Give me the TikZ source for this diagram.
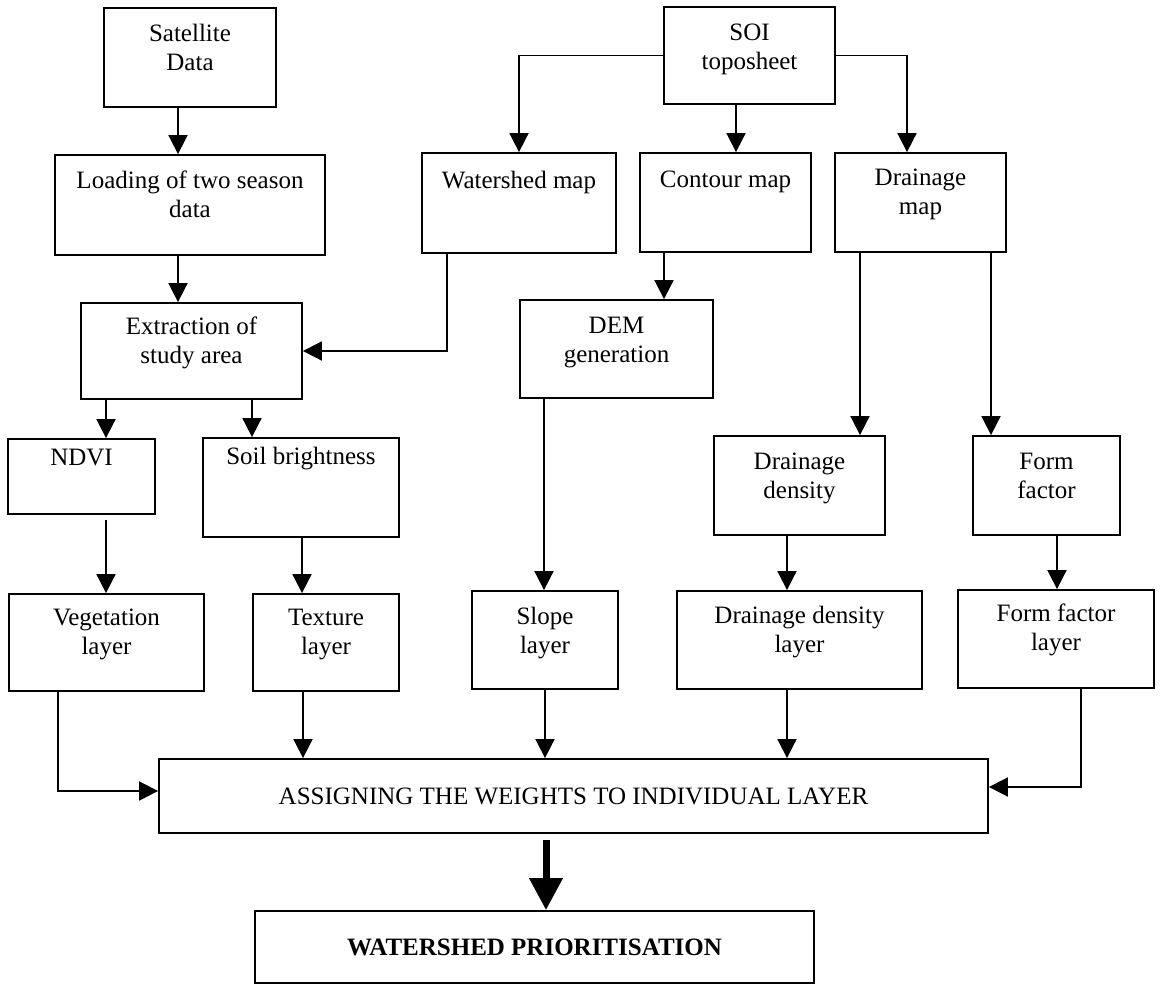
\documentclass[tikz,border=0pt]{standalone}
\usepackage{fontspec}
\setmainfont{Liberation Serif}
\usetikzlibrary{arrows.meta}
\newcommand{\boxtext}[4][6.5pt]{\parbox[c][#3][t]{#2}{\centering\vspace*{#1}\strut#4}}

\begin{document}
\begin{tikzpicture}[>={Triangle[length=9.5pt,width=9.5pt]}, line width=0.9pt, x=0.5pt, y=-0.5pt,
                box/.style={draw, inner sep=0pt},
                font=\fontsize{12.5}{14.5}\selectfont]
                \useasboundingbox (0,0) rectangle (1161,984);
                % inputs
                \node[box] (sat) at (190,57.5) {\boxtext{86pt}{49.5pt}{Satellite\\Data}};
                \node[box] (soi) at (749.5,55.5) {\boxtext{85.5pt}{48.5pt}{SOI\\toposheet}};
                \node[box] (load) at (190,205) {\boxtext{135pt}{50pt}{Loading of two season\\data}};
                \node[box] (wmap) at (519,203) {\boxtext[7.5pt]{97pt}{50pt}{Watershed map}};
                \node[box] (cmap) at (725.5,202.5) {\boxtext[7pt]{85.5pt}{49.5pt}{Contour map}};
                \node[box] (dmap) at (920.5,202.5) {\boxtext[6pt]{85.5pt}{49.5pt}{Drainage\\map}};
                \node[box] (extr) at (191.5,351) {\boxtext[5.5pt]{110.5pt}{48pt}{Extraction of\\study area}};
                \node[box] (dem) at (616.5,349) {\boxtext{96.5pt}{49pt}{DEM\\generation}};
                % derived maps
                \node[box] (ndvi) at (81.5,476.5) {\boxtext[3pt]{73.5pt}{37.5pt}{NDVI}};
                \node[box] (soil) at (301,487.5) {\boxtext[3pt]{98pt}{49.5pt}{Soil brightness}};
                \node[box] (dd) at (799.5,485.5) {\boxtext{85.5pt}{49.5pt}{Drainage\\density}};
                \node[box] (ff) at (1046.5,485.5) {\boxtext{73.5pt}{49.5pt}{Form\\factor}};
                % layers
                \node[box] (veg) at (106.5,642.5) {\boxtext[5.5pt]{97.5pt}{48.5pt}{Vegetation\\layer}};
                \node[box] (tex) at (326,642.5) {\boxtext[5.5pt]{73pt}{48.5pt}{Texture\\layer}};
                \node[box] (slope) at (545,640) {\boxtext{73pt}{49pt}{Slope\\layer}};
                \node[box] (ddl) at (799.5,640) {\boxtext[6pt]{122.5pt}{49pt}{Drainage density\\layer}};
                \node[box] (ffl) at (1056,639) {\boxtext[5.5pt]{98pt}{49pt}{Form factor\\layer}};
                \node[box, minimum width=414.5pt, minimum height=37pt] (assign) at (573.5,796) {ASSIGNING THE WEIGHTS TO INDIVIDUAL LAYER};
                \node[box, minimum width=279.5pt, minimum height=36pt] (wp) at (534.5,947) {\textbf{WATERSHED PRIORITISATION}};
                % connectors
                \draw [->] ([xshift=-6pt]sat.south) -- ([xshift=-6pt]sat.south |- load.north);
                \draw [->] ([xshift=-6pt]load.south) -- ([xshift=-6pt]load.south |- extr.north);
                \draw [->] (soi.west) -| (wmap.north);
                \draw [->] ([xshift=-6.75pt]soi.south) -- ([xshift=-6.75pt]soi.south |- cmap.north);
                \draw [->] (soi.east) -| ([xshift=-6.75pt]dmap.north);
                \draw [->] ([xshift=-36pt]wmap.south) |- (extr.east);
                \draw [->] ([xshift=-30.75pt]cmap.south) -- ([xshift=-30.75pt]cmap.south |- dem.north);
                \draw [->] ([xshift=-30.25pt]dmap.south) -- ([xshift=-30.25pt]dmap.south |- dd.north);
                \draw [->] ([xshift=35.25pt]dmap.south) -- ([xshift=35.25pt]dmap.south |- ff.north);
                \draw [->] ([xshift=-42.75pt]extr.south) -- ([xshift=-42.75pt]extr.south |- ndvi.north);
                \draw [->] ([xshift=30.25pt]extr.south) -- ([xshift=30.25pt]extr.south |- soil.north);
                \draw [->, shorten <=2.5pt] ([xshift=12.25pt]ndvi.south) -- ([xshift=12.25pt]ndvi.south |- veg.north);
                \draw [->] ([xshift=0.5pt]soil.south) -- ([xshift=0.5pt]soil.south |- tex.north);
                \draw [->] ([xshift=-36.25pt]dem.south) -- ([xshift=-36.25pt]dem.south |- slope.north);
                \draw [->] ([xshift=-6.25pt]dd.south) -- ([xshift=-6.25pt]dd.south |- ddl.north);
                \draw [->] ([xshift=5.25pt]ff.south) -- ([xshift=5.25pt]ff.south |- ffl.north);
                \draw [->] ([xshift=-24.25pt]veg.south) |- ([yshift=2.5pt]assign.west);
                \draw [->] ([xshift=-11.5pt]tex.south) -- ([xshift=-11.5pt]tex.south |- assign.north);
                \draw [->] (slope.south) -- (slope.south |- assign.north);
                \draw [->] ([xshift=-6.25pt]ddl.south) -- ([xshift=-6.25pt]ddl.south |- assign.north);
                \draw [->] ([xshift=12.5pt]ffl.south) |- ([yshift=4.5pt]assign.east);
                \draw [->, line width=3.5pt, >={Triangle[length=16pt,width=16pt]}, shorten <=3pt]
                    ([xshift=-13.75pt]assign.south) -- ([xshift=-13.75pt]assign.south |- wp.north);
            \end{tikzpicture}
\end{document}
